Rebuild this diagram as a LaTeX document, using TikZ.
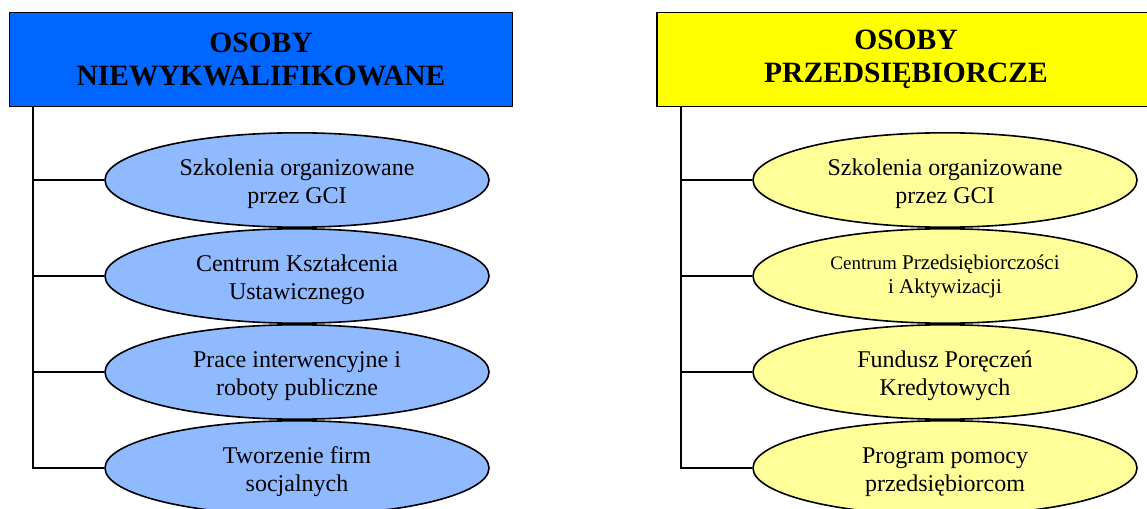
\documentclass[tikz,border=0pt]{standalone}
\usepackage{fontspec}
\setmainfont{Liberation Serif}
\usetikzlibrary{positioning,shapes.geometric}
\definecolor{hdrblue}{RGB}{0,102,255}
\definecolor{optblue}{RGB}{143,186,255}
\definecolor{hdryellow}{RGB}{255,255,0}
\definecolor{optyellow}{RGB}{255,255,153}
% two-line label, lowered a little inside its ellipse
\newcommand{\opttext}[2][4pt]{\raisebox{-#1}[\height][\depth]{%
  \begin{tabular}{@{}c@{}}#2\end{tabular}}}
\tikzset{
  header/.style={draw, line width=1.8pt, minimum height=94pt, inner sep=0pt,
    align=center, font=\bfseries\fontsize{29.5}{33}\selectfont},
  option/.style={draw, ellipse, line width=1.6pt, minimum width=384pt,
    minimum height=94.4pt, inner sep=0pt,
    font=\fontsize{24}{28}\selectfont},
  branch/.style={line width=2pt},
}
\begin{document}
\begin{tikzpicture}[x=1pt,y=-1pt]
  \useasboundingbox (0,0) rectangle (1147,508);
  \clip (0,0) rectangle (1147,508);

  % left column
  \node (osn) [header, fill=hdrblue, minimum width=503pt] at (261,59.5)
    {OSOBY\\NIEWYKWALIFIKOWANE};

  \node (lsz) [option, fill=optblue] at (297,180) {\opttext{Szkolenia organizowane\\przez GCI}};
  \node (lck) [option, fill=optblue, below=0pt of lsz] {\opttext{Centrum Kształcenia\\Ustawicznego}};
  \node (lpi) [option, fill=optblue, below=0pt of lck] {\opttext{Prace interwencyjne i\\roboty publiczne}};
  \node (ltf) [option, fill=optblue, below=0pt of lpi] {\opttext{Tworzenie firm\\socjalnych}};

  \coordinate (ltrunk) at (33,107);
  \draw [branch] (ltrunk) |- (ltf.west);
  \foreach \n in {lsz,lck,lpi}
    \draw [branch] (ltrunk |- \n.west) -- (\n.west);

  % right column
  \node (osp) [header, fill=hdryellow, minimum width=498pt] at (906,59.5)
    {OSOBY\\PRZEDSIĘBIORCZE};

  \node (rsz) [option, fill=optyellow] at (945,180) {\opttext{Szkolenia organizowane\\przez GCI}};
  \node (rcp) [option, fill=optyellow, below=0pt of rsz, font=\fontsize{21}{24}\selectfont]
    {\opttext[1pt]{{\fontsize{19}{24}\selectfont Centrum} Przedsiębiorczości\\i Aktywizacji}};
  \node (rfp) [option, fill=optyellow, below=0pt of rcp] {\opttext{Fundusz Poręczeń\\Kredytowych}};
  \node (rpp) [option, fill=optyellow, below=0pt of rfp] {\opttext{Program pomocy\\przedsiębiorcom}};

  \coordinate (rtrunk) at (681,107);
  \draw [branch] (rtrunk) |- (rpp.west);
  \foreach \n in {rsz,rcp,rfp}
    \draw [branch] (rtrunk |- \n.west) -- (\n.west);
\end{tikzpicture}
\end{document}
